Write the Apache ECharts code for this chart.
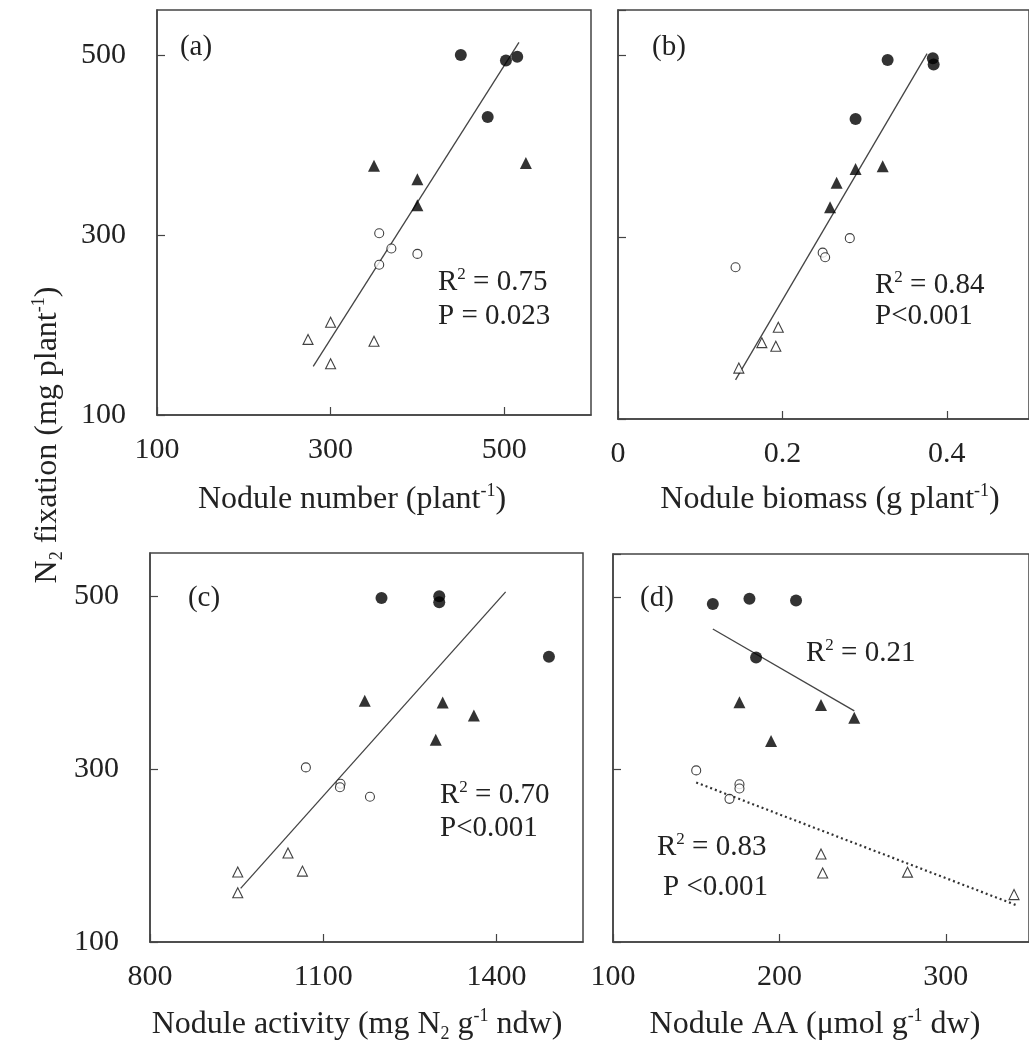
<!DOCTYPE html>
<html><head><meta charset="utf-8">
<script src="https://cdn.jsdelivr.net/npm/echarts@6/dist/echarts.min.js"></script>
<style>html,body{margin:0;padding:0;background:#fff}#c{width:1029px;height:1046px}</style>
</head><body><div id="c"></div>
<script>
// ---- Panel (a): Nodule number ----
const numFC = [[450,500],[502,494],[515,498],[481,431]];
const numFT = [[350,377],[400,362],[400,333],[525,380]];
const numOC = [[356,302],[370,285],[356,267],[400,279]];
const numOT = [[300,203],[274,184],[350,182],[300,157]];
const numFit = [[280,154],[517,514]];
// ---- Panel (b): Nodule biomass ----
const bioFC = [[0.328,495],[0.383,497],[0.384,490],[0.289,430]];
const bioFT = [[0.266,360],[0.289,375],[0.322,378],[0.258,333]];
const bioOC = [[0.143,267],[0.282,299],[0.249,283],[0.252,278]];
const bioOT = [[0.195,201],[0.175,184],[0.192,180],[0.147,156]];
const bioFit = [[0.143,143],[0.376,502]];
// ---- Panel (c): Nodule activity ----
const actFC = [[1201,498],[1301,500],[1301,493],[1491,430]];
const actFT = [[1172,379],[1307,377],[1361,362],[1295,334]];
const actOC = [[1070,302],[1130,283],[1129,279],[1181,268]];
const actOT = [[952,181],[1039,203],[1064,182],[952,157]];
const actFit = [[957,162],[1416,505]];
// ---- Panel (d): Nodule AA ----
const aaFC = [[160,492],[182,498],[210,496],[186,430]];
const aaFT = [[176,378],[225,375],[245,360],[195,333]];
const aaOC = [[150,299],[176,283],[176,278],[170,266]];
const aaOT = [[225,202],[226,180],[277,181],[341,155]];
const aaFitHigh = [[160,463],[245,368]];
const aaFitLow = [[150,285],[342,143]];

// axis ranges / ticks
const xMin = [100, 0, 800, 100];
const xMax = [600, 0.5, 1550, 350];
const xStep = [200, 0.2, 300, 100];
const yMin = 100, yMax = 550, yStep = 200;

const FONT = '"Liberation Serif", "Times New Roman", serif';
const TXT = '#222';
const chart = echarts.init(document.getElementById('c'), null, {renderer:'canvas'});

const grids = [
  {left:157, top:10, width:434, height:405},
  {left:618, top:10, width:421, height:409},
  {left:150, top:553, width:433, height:389},
  {left:613, top:554, width:425, height:388}
];

function fmt(v){ return String(Math.round(v * 1000) / 1000); }

function xAxis(i){
  return {type:'value', gridIndex:i, min:xMin[i], max:xMax[i], interval:xStep[i],
    splitLine:{show:false},
    axisLine:{show:true, lineStyle:{color:'#444', width:1.5}},
    axisTick:{show:true, inside:true, length:8, lineStyle:{color:'#444', width:1.2}},
    axisLabel:{show:true, margin:20, showMaxLabel:false, color:TXT, fontFamily:FONT, fontSize:30, formatter:fmt}
  };
}
function yAxis(i, showLabel){
  return {type:'value', gridIndex:i, min:yMin, max:yMax, interval:yStep,
    splitLine:{show:false},
    axisLine:{show:true, lineStyle:{color:'#444', width:1.5}},
    axisTick:{show:true, inside:true, length:8, lineStyle:{color:'#444', width:1.2}},
    axisLabel:{show:showLabel, margin:31, showMaxLabel:false, color:TXT, fontFamily:FONT, fontSize:30, formatter:fmt}
  };
}

function sc(i, data, kind){
  const filled = kind[0] === 'F';
  const tri = kind[1] === 'T';
  return {type:'scatter', xAxisIndex:i, yAxisIndex:i, data:data, z:3,
    symbol: tri ? 'triangle' : 'circle',
    symbolSize: filled ? 12 : (tri ? 10 : 9),
    itemStyle: filled ? {color:'#000'} : {color:'#fff', borderColor:'#111', borderWidth:1.1},
    emphasis:{disabled:true}, silent:true};
}
function fit(i, data, dotted){
  return {type:'line', xAxisIndex:i, yAxisIndex:i, data:data, z:2, showSymbol:false, symbol:'none',
    lineStyle: dotted ? {color:'#333', width:2.2, type:[2,3]} : {color:'#444', width:1.3},
    silent:true, animation:false};
}

const panels = [
  [numFC, numFT, numOC, numOT],
  [bioFC, bioFT, bioOC, bioOT],
  [actFC, actFT, actOC, actOT],
  [aaFC, aaFT, aaOC, aaOT]
];
const kinds = ['FC','FT','OC','OT'];
const series = [];
panels.forEach((p, i) => p.forEach((d, k) => series.push(sc(i, d, kinds[k]))));
series.push(fit(0, numFit), fit(1, bioFit), fit(2, actFit), fit(3, aaFitHigh), fit(3, aaFitLow, true));

const rich = {
  n:{fontFamily:FONT, fontSize:32, lineHeight:36, color:TXT},
  sup:{fontFamily:FONT, fontSize:18, lineHeight:22, verticalAlign:'top', color:TXT},
  sub:{fontFamily:FONT, fontSize:18, lineHeight:22, verticalAlign:'bottom', color:TXT}
};
const richA = {
  n:{fontFamily:FONT, fontSize:29, lineHeight:32, color:TXT},
  sup:{fontFamily:FONT, fontSize:17, lineHeight:20, verticalAlign:'top', color:TXT}
};
function t(text, x, y, opts){
  opts = opts || {};
  return {type:'text', x:x, y:y, rotation:opts.rot || 0, z:10, silent:true,
    style:{text:text, fill:TXT, font:(opts.size||32)+'px '+FONT,
      textAlign:opts.align||'center', align:opts.align||'center',
      textVerticalAlign:'middle', verticalAlign:'middle',
      rich: opts.rich}};
}

const graphic = [
  t('{n|N}{sub|2}{n| fixation (mg plant}{sup|-1}{n|)}', 48, 435, {rot:Math.PI/2, rich:rich}),
  t('{n|Nodule number (plant}{sup|-1}{n|)}', 352, 500, {rich:rich}),
  t('{n|Nodule biomass (g plant}{sup|-1}{n|)}', 830, 500, {rich:rich}),
  t('{n|Nodule activity (mg N}{sub|2}{n| g}{sup|-1}{n| ndw)}', 357, 1025, {rich:rich}),
  t('{n|Nodule AA (μmol g}{sup|-1}{n| dw)}', 815, 1025, {rich:rich}),
  t('(a)', 196, 47, {size:29}),
  t('(b)', 669, 47, {size:29}),
  t('(c)', 204, 598, {size:29}),
  t('(d)', 657, 598, {size:29}),
  t('{n|R}{sup|2}{n| = 0.75}', 438, 282, {align:'left', rich:richA}),
  t('{n|P = 0.023}', 438, 316, {align:'left', rich:richA}),
  t('{n|R}{sup|2}{n| = 0.84}', 875, 285, {align:'left', rich:richA}),
  t('{n|P<0.001}', 875, 316, {align:'left', rich:richA}),
  t('{n|R}{sup|2}{n| = 0.70}', 440, 795, {align:'left', rich:richA}),
  t('{n|P<0.001}', 440, 828, {align:'left', rich:richA}),
  t('{n|R}{sup|2}{n| = 0.21}', 806, 653, {align:'left', rich:richA}),
  t('{n|R}{sup|2}{n| = 0.83}', 657, 847, {align:'left', rich:richA}),
  t('{n|P <0.001}', 663, 887, {align:'left', rich:richA})
];

chart.setOption({
  animation:false,
  backgroundColor:'#fff',
  grid: grids.map(g => Object.assign({show:true, borderColor:'#444', borderWidth:1.5, backgroundColor:'transparent', containLabel:false}, g)),
  xAxis: [0,1,2,3].map(xAxis),
  yAxis: [yAxis(0,true), yAxis(1,false), yAxis(2,true), yAxis(3,false)],
  series: series,
  graphic: graphic
});
</script></body></html>
